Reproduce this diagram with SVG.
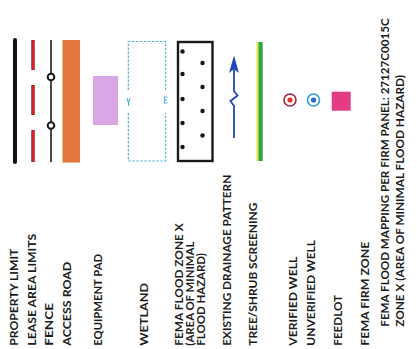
<svg xmlns="http://www.w3.org/2000/svg" width="417" height="349" viewBox="0 0 417 349">
<style>
text{font-family:Lato,"Open Sans","Liberation Sans",sans-serif;font-weight:bold;font-size:12px;fill:#1c1c1c}
.wet{fill:none;stroke:#4db6d6;stroke-width:1.2;stroke-dasharray:2.5 1.5}
</style>
<rect width="417" height="349" fill="#fff"/>
<g id="property-limit">
<line x1="15" y1="40" x2="15" y2="162" stroke="#141414" stroke-width="4" stroke-linecap="round"/>
<text transform="translate(18.3,345.7) rotate(-90)" textLength="97" lengthAdjust="spacingAndGlyphs">PROPERTY LIMIT</text>
</g>
<g id="lease-area-limits">
<g stroke="#7a1a1a" stroke-width="3.4"><line x1="33" y1="40" x2="33" y2="70"/><line x1="33" y1="85" x2="33" y2="115"/><line x1="33" y1="130" x2="33" y2="162"/></g>
<g stroke="#e01b2a" stroke-width="2"><line x1="33" y1="40.5" x2="33" y2="69.5"/><line x1="33" y1="85.5" x2="33" y2="114.5"/><line x1="33" y1="130.5" x2="33" y2="161.5"/></g>
<text transform="translate(36,345.7) rotate(-90)" textLength="112" lengthAdjust="spacingAndGlyphs">LEASE AREA LIMITS</text>
</g>
<g id="fence">
<line x1="51" y1="40" x2="51" y2="162" stroke="#1a1a1a" stroke-width="1.6"/>
<circle cx="51" cy="77" r="3.3" fill="#fff" stroke="#1a1a1a" stroke-width="2"/>
<circle cx="51" cy="125.5" r="3.3" fill="#fff" stroke="#1a1a1a" stroke-width="2"/>
<text transform="translate(53.3,345.7) rotate(-90)" textLength="42.7" lengthAdjust="spacingAndGlyphs">FENCE</text>
</g>
<g id="access-road">
<rect x="62.5" y="40" width="17.5" height="122.5" fill="#e2773b"/>
<text transform="translate(71,345.7) rotate(-90)" textLength="84" lengthAdjust="spacingAndGlyphs">ACCESS ROAD</text>
</g>
<g id="equipment-pad">
<rect x="93" y="76" width="25" height="49" fill="#d9a7e4"/>
<text transform="translate(101.7,345.7) rotate(-90)" textLength="91.7" lengthAdjust="spacingAndGlyphs">EQUIPMENT PAD</text>
</g>
<g id="wetland">
<path class="wet" d="M128.3 90V41.5H165.5V90M128.3 113V161H165.5V113"/>
<path d="M127 98l1.5 5 1.5-5M128.5 103v3" fill="none" stroke="#4db6d6" stroke-width="1.1"/>
<path d="M167.5 97h-3v6h3M164.5 100h2.5" fill="none" stroke="#4db6d6" stroke-width="1.1"/>
<text transform="translate(148.3,345.7) rotate(-90)" textLength="62.7" lengthAdjust="spacingAndGlyphs">WETLAND</text>
</g>
<g id="fema-flood-zone-x">
<rect x="178" y="42" width="34.5" height="119" fill="#fff" stroke="#1a1a1a" stroke-width="2.4"/>
<g fill="#141414">
<circle cx="182.5" cy="51.5" r="2.2"/><circle cx="182.5" cy="74" r="2.2"/><circle cx="182.5" cy="99" r="2.2"/><circle cx="182.5" cy="123" r="2.2"/><circle cx="182.5" cy="147" r="2.2"/>
<circle cx="202.5" cy="63" r="2.2"/><circle cx="202.5" cy="87" r="2.2"/><circle cx="202.5" cy="111" r="2.2"/><circle cx="202.5" cy="135.5" r="2.2"/>
</g>
<text transform="translate(183.3,345.7) rotate(-90)" textLength="122.4" lengthAdjust="spacingAndGlyphs">FEMA FLOOD ZONE X</text>
<text transform="translate(194,345.7) rotate(-90)" textLength="104" lengthAdjust="spacingAndGlyphs">(AREA OF MINIMAL</text>
<text transform="translate(205,345.7) rotate(-90)" textLength="92.7" lengthAdjust="spacingAndGlyphs">FLOOD HAZARD)</text>
</g>
<g id="existing-drainage-pattern">
<path d="M234 138V106L230.5 101L237.5 95.5L234 91V66" fill="none" stroke="#2447b8" stroke-width="1.8"/>
<path d="M234 55.5L229 73L234 69L239 73Z" fill="#2447b8"/>
<text transform="translate(231,345.7) rotate(-90)" textLength="171" lengthAdjust="spacingAndGlyphs">EXISTING DRAINAGE PATTERN</text>
</g>
<g id="tree-shrub-screening">
<rect x="256.5" y="42" width="2.2" height="119" fill="#e6e23c"/>
<rect x="258.5" y="42" width="4.2" height="119" fill="#2fa445"/>
<text transform="translate(256.7,345.7) rotate(-90)" textLength="143" lengthAdjust="spacingAndGlyphs">TREE/SHRUB SCREENING</text>
</g>
<g id="verified-well">
<circle cx="290" cy="100" r="6" fill="#fff" stroke="#a8203c" stroke-width="1.6"/>
<circle cx="290" cy="100" r="2.6" fill="#e2362c"/>
<text transform="translate(296.7,345.7) rotate(-90)" textLength="89" lengthAdjust="spacingAndGlyphs">VERIFIED WELL</text>
</g>
<g id="unverified-well">
<circle cx="313.5" cy="100" r="6" fill="#fff" stroke="#2aa0dc" stroke-width="1.6"/>
<circle cx="313.5" cy="100" r="2.6" fill="#1f6fc0"/>
<text transform="translate(315,345.7) rotate(-90)" textLength="105.7" lengthAdjust="spacingAndGlyphs">UNVERIFIED WELL</text>
</g>
<g id="feedlot">
<rect x="331.7" y="91.7" width="19" height="19" fill="#e43c84"/>
<text transform="translate(341.7,345.7) rotate(-90)" textLength="50.7" lengthAdjust="spacingAndGlyphs">FEEDLOT</text>
</g>
<g id="fema-firm-zone">
<text transform="translate(369,345.7) rotate(-90)" textLength="104" lengthAdjust="spacingAndGlyphs">FEMA FIRM ZONE</text>
<text transform="translate(388.5,326.7) rotate(-90)" textLength="308.4" lengthAdjust="spacingAndGlyphs">FEMA FLOOD MAPPING PER FIRM PANEL:  27127C0015C</text>
<text transform="translate(404,326.7) rotate(-90)" textLength="251.7" lengthAdjust="spacingAndGlyphs">ZONE X (AREA OF MINIMAL FLOOD HAZARD)</text>
</g>
</svg>
